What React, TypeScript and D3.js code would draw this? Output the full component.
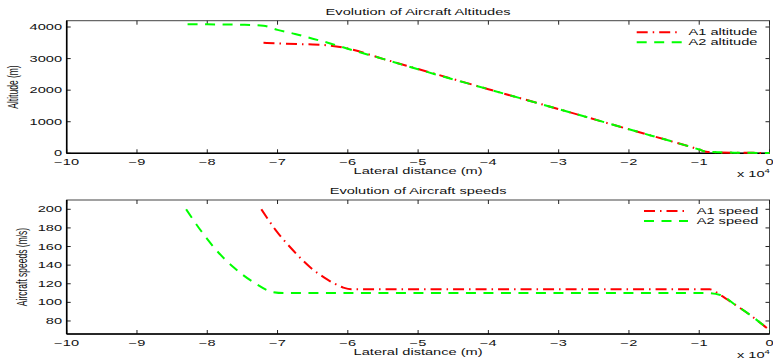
import React, { useEffect, useRef } from 'react';
import * as d3 from 'd3';

// lateral distance in metres
const a1AltX = [-72000, -70000, -67000, -65000, -62500, -60000, -55000, -50000, -40000, -30000, -20000, -10000, -9000, -7000, -5000, -2500, 0];
const a1AltY = [3500, 3480, 3460, 3450, 3410, 3320, 2990, 2670, 2030, 1400, 760, 120, 50, 30, 20, 15, 10];
const a2AltX = [-82800, -80000, -75000, -72000, -70000, -67500, -65000, -62500, -60000, -55000, -50000, -40000, -30000, -20000, -10000, -9000, -7000, -5000, -2500, 0];
const a2AltY = [4090, 4085, 4070, 4040, 3910, 3780, 3630, 3480, 3310, 2990, 2660, 2030, 1400, 760, 120, 50, 30, 20, 15, 10];

const a1SpeedX = [-72300, -70100, -67800, -65400, -63000, -60700, -59500, -30000, -8500, -7000, -5000, -2500, 0];
const a1SpeedY = [200, 176, 156, 138, 125, 116, 114, 114, 114, 108, 98, 85, 70];
const a2SpeedX = [-83000, -81000, -78700, -76300, -73500, -70600, -69000, -30000, -9000, -7000, -5000, -2500, 0];
const a2SpeedY = [200, 178, 156, 138, 122, 111, 110, 110, 110, 108, 98, 85, 70];

const xTicks = [-100000, -90000, -80000, -70000, -60000, -50000, -40000, -30000, -20000, -10000, 0];
const altTicks = [0, 1000, 2000, 3000, 4000];
const speedTicks = [80, 100, 120, 140, 160, 180, 200];

const W = 773, H = 361;
const FONT = '"Liberation Sans", Arial, sans-serif';
const FS = 8.5;
const SX = 1.72;

const App = () => {
  const ref = useRef<SVGSVGElement>(null);

  useEffect(() => {
    if (!ref.current) return;
    const svg = d3.select(ref.current);
    svg.selectAll('*').remove();

    const x = d3.scaleLinear().domain([-100000, 0]).range([66.7, 769.5]);

    const text = (g: any, s: string, tx: number, ty: number, anchor: string, rotate = false) => {
      return g.append('text')
        .attr('transform', rotate
          ? `translate(${tx},${ty}) rotate(-90) scale(1,${SX})`
          : `translate(${tx},${ty}) scale(${SX},1)`)
        .attr('text-anchor', anchor)
        .attr('font-family', FONT)
        .attr('font-size', FS)
        .attr('fill', '#111')
        .text(s);
    };

    const panel = (
      cfg: {
        top: number; bottom: number; domain: [number, number]; yTicks: number[];
        title: string; titleY: number; ylabel: string; ylabelX: number;
        tickY: number; xlabelY: number; expY: number;
        series: { xs: number[]; ys: number[]; color: string; dash: string; name: string }[];
        legendX0: number; legendX1: number; legendTextX: number; legendY: number;
      }
    ) => {
      const g = svg.append('g');
      const y = d3.scaleLinear().domain(cfg.domain).range([cfg.bottom, cfg.top]);
      const [x0, x1] = x.range();

      // box
      g.append('rect')
        .attr('x', x0).attr('y', cfg.top)
        .attr('width', x1 - x0).attr('height', cfg.bottom - cfg.top)
        .attr('fill', 'white').attr('stroke', '#444').attr('stroke-width', 1);

      // inward ticks on all four sides
      xTicks.forEach(v => {
        g.append('line').attr('x1', x(v)).attr('x2', x(v)).attr('y1', cfg.bottom).attr('y2', cfg.bottom - 4)
          .attr('stroke', '#222');
        g.append('line').attr('x1', x(v)).attr('x2', x(v)).attr('y1', cfg.top).attr('y2', cfg.top + 4)
          .attr('stroke', '#222');
        text(g, v === 0 ? '0' : '\u2212' + Math.abs(v / 10000), x(v), cfg.tickY, 'middle');
      });
      cfg.yTicks.forEach(v => {
        g.append('line').attr('x1', x0).attr('x2', x0 + 4).attr('y1', y(v)).attr('y2', y(v)).attr('stroke', '#222');
        g.append('line').attr('x1', x1).attr('x2', x1 - 4).attr('y1', y(v)).attr('y2', y(v)).attr('stroke', '#222');
        text(g, String(v), 62, y(v) + 3, 'end');
      });

      // heavier left and bottom axis lines
      g.append('line').attr('x1', x0).attr('x2', x0).attr('y1', cfg.top).attr('y2', cfg.bottom)
        .attr('stroke', '#000').attr('stroke-width', 1.6);
      g.append('line').attr('x1', x0).attr('x2', x1).attr('y1', cfg.bottom).attr('y2', cfg.bottom)
        .attr('stroke', '#000').attr('stroke-width', 1.6);

      const line = d3.line<[number, number]>()
        .x(d => x(d[0]))
        .y(d => y(d[1]))
        .curve(d3.curveMonotoneX);

      cfg.series.forEach(s => {
        const pts = s.xs.map((v, i) => [v, s.ys[i]] as [number, number]);
        g.append('path')
          .attr('d', line(pts))
          .attr('fill', 'none')
          .attr('stroke', s.color)
          .attr('stroke-width', 2)
          .attr('stroke-dasharray', s.dash);
      });

      // legend
      cfg.series.forEach((s, i) => {
        const ly = cfg.legendY + i * 10;
        g.append('line')
          .attr('x1', cfg.legendX0).attr('x2', cfg.legendX1)
          .attr('y1', ly).attr('y2', ly)
          .attr('stroke', s.color).attr('stroke-width', 2)
          .attr('stroke-dasharray', s.dash);
        text(g, s.name, cfg.legendTextX, ly + 3, 'start');
      });

      text(g, cfg.title, (x0 + x1) / 2, cfg.titleY, 'middle');
      text(g, 'Lateral distance (m)', (x0 + x1) / 2, cfg.xlabelY, 'middle');
      text(g, cfg.ylabel, cfg.ylabelX, (cfg.top + cfg.bottom) / 2, 'middle', true);

      // exponent label, below the last tick label
      const e = g.append('text')
        .attr('transform', `translate(737,${cfg.expY}) scale(${SX},1)`)
        .attr('font-family', FONT).attr('font-size', FS).attr('fill', '#111');
      e.append('tspan').text('x 10');
      e.append('tspan').attr('font-size', 5.5).attr('dy', -3.5).text('4');
    };

    const red = '#ff0000', green = '#00ff00';
    const dashDot = '11,5,1.5,5';
    const dashed = '10,7.5';

    panel({
      top: 20.7, bottom: 153.3, domain: [0, 4200], yTicks: altTicks,
      title: 'Evolution of Aircraft Altitudes', titleY: 14.5,
      ylabel: 'Altitude (m)', ylabelX: 18,
      tickY: 165, xlabelY: 174, expY: 176.5,
      series: [
        { xs: a1AltX, ys: a1AltY, color: red, dash: dashDot, name: 'A1 altitude' },
        { xs: a2AltX, ys: a2AltY, color: green, dash: dashed, name: 'A2 altitude' },
      ],
      legendX0: 636.7, legendX1: 681.7, legendTextX: 688.5, legendY: 32.3,
    });

    panel({
      top: 200, bottom: 334, domain: [66, 210], yTicks: speedTicks,
      title: 'Evolution of Aircraft speeds', titleY: 193.5,
      ylabel: 'Aircraft speeds (m/s)', ylabelX: 27,
      tickY: 345.5, xlabelY: 355, expY: 357.5,
      series: [
        { xs: a1SpeedX, ys: a1SpeedY, color: red, dash: dashDot, name: 'A1 speed' },
        { xs: a2SpeedX, ys: a2SpeedY, color: green, dash: dashed, name: 'A2 speed' },
      ],
      legendX0: 644, legendX1: 688, legendTextX: 696.7, legendY: 211,
    });
  }, []);

  return (
    <svg
      ref={ref}
      width={W}
      height={H}
      style={{ position: 'absolute', left: 0, top: 0, background: 'white' }}
    />
  );
};

export default App;
